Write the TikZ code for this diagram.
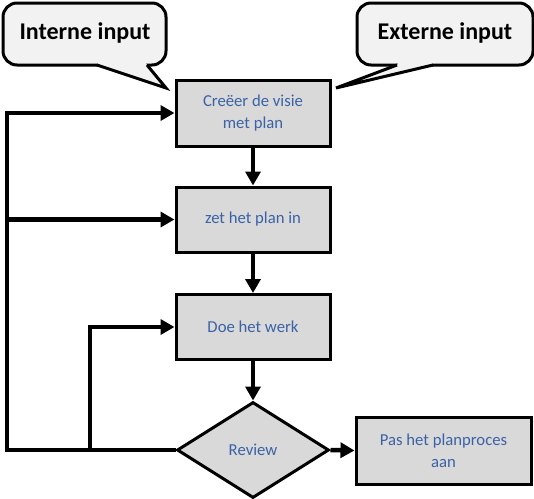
\documentclass[tikz,border=0pt]{standalone}
\usepackage{fontspec}
\setmainfont{Carlito}
\usetikzlibrary{arrows.meta,shapes.geometric}
\definecolor{boxfill}{HTML}{D9D9D9}
\definecolor{callfill}{HTML}{F2F2F2}
\definecolor{txtblue}{HTML}{3A62A6}
\tikzset{
  stepbox/.style={draw=black, line width=3pt, fill=boxfill, text=txtblue,
    font=\fontsize{16.7}{22}\selectfont, align=center, inner sep=0pt,
    minimum width=154pt},
  decision/.style={diamond, draw=black, line width=3pt, fill=boxfill, text=txtblue,
    font=\fontsize{16.7}{22}\selectfont, inner sep=0pt,
    minimum width=152pt, minimum height=96pt},
  callout/.style={draw=black, line width=3pt, fill=callfill, rounded corners=14pt},
  tailline/.style={draw=black, line width=3pt, line join=miter},
  calltext/.style={font=\fontsize{24}{28}\selectfont\bfseries, text=black},
  conn/.style={line width=4.5pt, draw=black, -{Triangle[width=15pt,length=14pt]}},
  plainline/.style={line width=4.5pt, draw=black},
}
\begin{document}
\begin{tikzpicture}[x=1pt,y=-1pt]
\useasboundingbox (0,0) rectangle (534,498);

% callouts
\draw[callout] (3,3) rectangle (166,65);
\fill[callfill] (99,62) -- (145,62) -- (147,65) -- (166,88) -- (97,65) -- cycle;
\draw[tailline] (97,65) -- (166,88) -- (147,65);
\node[calltext] (intern) at (85,33) {Interne input};

\draw[callout] (357,3) rectangle (533,65);
\fill[callfill] (399,62) -- (431,62) -- (433,65) -- (336,88) -- (397,65) -- cycle;
\draw[tailline] (433,65) -- (336,88) -- (397,65);
\node[calltext] (extern) at (445,33) {Externe input};

% boxes
\node[stepbox, minimum height=66pt] (b1) at (253,113) {Creëer de visie\\met plan};
\node[stepbox, minimum height=65pt] (b2) at (253,219.5) {zet het plan in};
\node[stepbox, minimum height=65pt] (b3) at (253,327) {Doe het werk};
\node[decision] (rev) at (253,450) {Review};
\node[stepbox, minimum width=175pt, minimum height=67pt] (b4) at (443.5,450.5) {Pas het planproces\\aan};

% vertical arrows
\draw[conn] (b1.south) -- (b2.north);
\draw[conn] (b2.south) -- (b3.north);
\draw[conn] (b3.south) -- (rev.north);
\draw[conn] (rev.east) -- (b4.west);

% feedback loops
\coordinate (outer) at (7,0);
\coordinate (inner) at (90,0);
\draw[plainline] (rev.west) -- (outer |- rev.west) -- (outer |- b1.west);
\draw[conn] ([xshift=-2.25pt]outer |- b1.west) -- (b1.west);
\draw[conn] (outer |- b2.west) -- (b2.west);
\draw[conn] (inner |- rev.west) -- (inner |- b3.west) -- (b3.west);
\end{tikzpicture}
\end{document}
